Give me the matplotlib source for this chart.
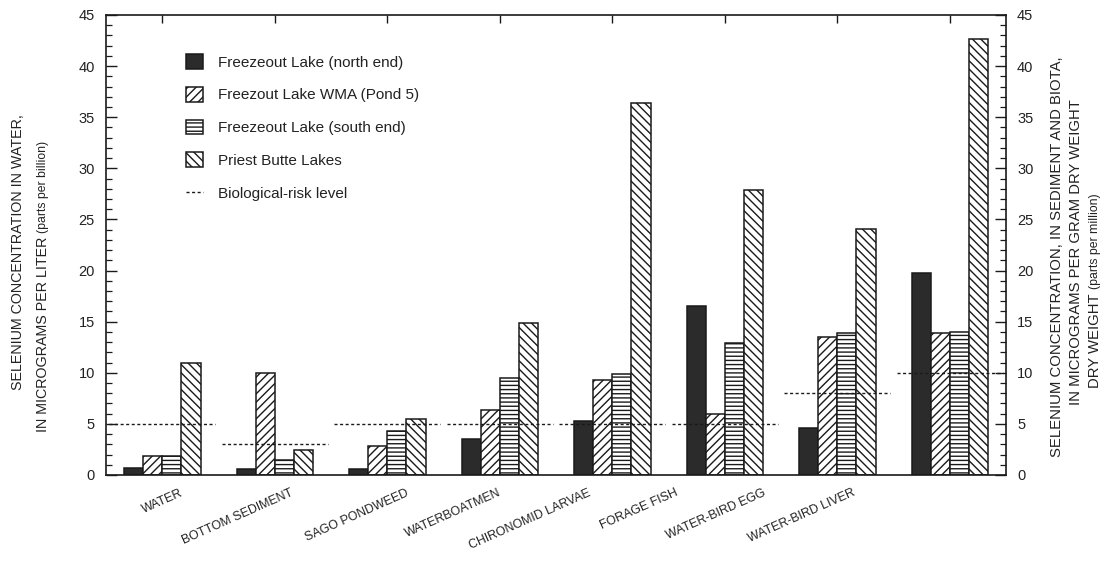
import matplotlib
matplotlib.use("Agg")
import matplotlib.pyplot as plt
import numpy as np
from matplotlib.patches import Patch
from matplotlib.lines import Line2D
from matplotlib.ticker import MultipleLocator
import matplotlib.transforms as mtransforms

plt.rcParams['font.family'] = ['Liberation Sans', 'DejaVu Sans']
plt.rcParams['hatch.linewidth'] = 1.0
plt.rcParams['hatch.color'] = '#1a1a1a'

categories = ["WATER", "BOTTOM SEDIMENT", "SAGO PONDWEED", "WATERBOATMEN",
              "CHIRONOMID LARVAE", "FORAGE FISH", "WATER-BIRD EGG", "WATER-BIRD LIVER"]
series_names = ["Freezeout Lake (north end)", "Freezout Lake WMA (Pond 5)",
                "Freezeout Lake (south end)", "Priest Butte Lakes"]
north_end = [0.7, 0.6, 0.55, 3.5, 5.3, 16.5, 4.6, 19.8]
wma_pond5 = [1.9, 10.0, 2.85, 6.35, 9.3, 6.0, 13.5, 13.9]
south_end = [1.9, 1.5, 4.3, 9.5, 9.9, 12.9, 13.9, 14.0]
priest_butte = [11.0, 2.4, 5.5, 14.9, 36.4, 27.9, 24.1, 42.7]
risk_level = [5, 3, 5, 5, 5, 5, 8, 10]
y_ticks = [0, 5, 10, 15, 20, 25, 30, 35, 40, 45]

# horizontal nudges of the rotated category labels (category units)
label_shift = [0.16, 0.14, 0.16, -0.02, -0.22, -0.44, -0.66, -0.87]

ink = '#1a1a1a'
tc = '#222222'
fig = plt.figure(figsize=(11.05, 5.64), dpi=100)
ax = fig.add_axes([106 / 1105, 1 - 475 / 564, 900 / 1105, 460 / 564])

x = np.arange(len(categories))
width = 0.17
styles = [
    dict(facecolor='#2b2b2b', hatch=None),
    dict(facecolor='white', hatch='////'),
    dict(facecolor='white', hatch='----'),
    dict(facecolor='white', hatch='\\\\\\\\'),
]
all_series = [north_end, wma_pond5, south_end, priest_butte]
for k, (vals, st) in enumerate(zip(all_series, styles)):
    ax.bar(x + (k - 1.5) * width, vals, width, facecolor=st['facecolor'],
           hatch=st['hatch'], edgecolor=ink, linewidth=1.1, zorder=2)

# biological-risk levels, one short dashed segment per category
for i, lvl in enumerate(risk_level):
    ax.plot([i - 0.47, i + 0.47], [lvl, lvl], color=ink, lw=1.0,
            linestyle=(0, (2.2, 1.8)), zorder=3)

ax.set_xlim(-0.5, len(categories) - 0.5)
ax.set_ylim(0, 45)
ax.set_yticks(y_ticks)
ax.yaxis.set_minor_locator(MultipleLocator(1))
ax.set_xticks(x)
ax.tick_params(axis='x', bottom=False, top=True, labelbottom=False,
               direction='in', length=6, width=1, color=ink)
ax.tick_params(axis='y', which='major', left=True, right=True, labelleft=True,
               labelright=True, direction='in', length=8, width=1, color=ink,
               labelsize=10.5, labelcolor=tc, pad=8)
ax.tick_params(axis='y', which='minor', left=True, right=True, direction='in',
               length=4, width=0.9, color=ink)
for s in ax.spines.values():
    s.set_linewidth(1.2)
    s.set_color(ink)

# category labels, rotated
trans = mtransforms.blended_transform_factory(ax.transData, ax.transAxes)
shift_down = mtransforms.ScaledTranslation(0, -12 / 100, fig.dpi_scale_trans)
for i, name in enumerate(categories):
    ax.text(i + label_shift[i], 0, name, transform=trans + shift_down, rotation=24,
            rotation_mode='anchor', ha='right', va='top', fontsize=8.9, color=tc)

# legend
handles = [Patch(facecolor=st['facecolor'], hatch=st['hatch'], edgecolor=ink, linewidth=1.1)
           for st in styles]
handles.append(Line2D([], [], color=ink, lw=1.0, linestyle=(0, (2.2, 1.8))))
labels = series_names + ["Biological-risk level"]
ax.legend(handles, labels, loc='upper left', bbox_to_anchor=(0.089, 0.915),
          frameon=False, borderpad=0, borderaxespad=0, handlelength=1.1,
          handleheight=1.1, labelspacing=1.13, handletextpad=1.0,
          fontsize=11, labelcolor=tc)


def stacked_vertical(xpx, ybottom_px, parts):
    """Draw rotated text pieces one after another, reading bottom to top."""
    renderer = fig.canvas.get_renderer()
    y = 1 - ybottom_px / 564
    for text, size in parts:
        t = fig.text(xpx / 1105, y, text, rotation=90, ha='center', va='bottom',
                     fontsize=size, color=tc)
        bb = t.get_window_extent(renderer)
        y = (bb.y1 + 4) / fig.bbox.height


# left axis title
fig.text(18 / 1105, 1 - 252 / 564, "SELENIUM CONCENTRATION IN WATER,", rotation=90,
         ha='center', va='center', fontsize=10.3, color=tc)
stacked_vertical(43, 432, [("IN MICROGRAMS PER LITER", 10.3), ("(parts per billion)", 8.8)])

# right axis title
fig.text(1057 / 1105, 1 - 257 / 564, "SELENIUM CONCENTRATION, IN SEDIMENT AND BIOTA,",
         rotation=90, ha='center', va='center', fontsize=10.7, color=tc)
fig.text(1076 / 1105, 1 - 252 / 564, "IN MICROGRAMS PER GRAM DRY WEIGHT",
         rotation=90, ha='center', va='center', fontsize=10.7, color=tc)
stacked_vertical(1095, 388, [("DRY WEIGHT", 10.7), ("(parts per million)", 8.8)])

fig.savefig("out.png", dpi=100, facecolor='white')
